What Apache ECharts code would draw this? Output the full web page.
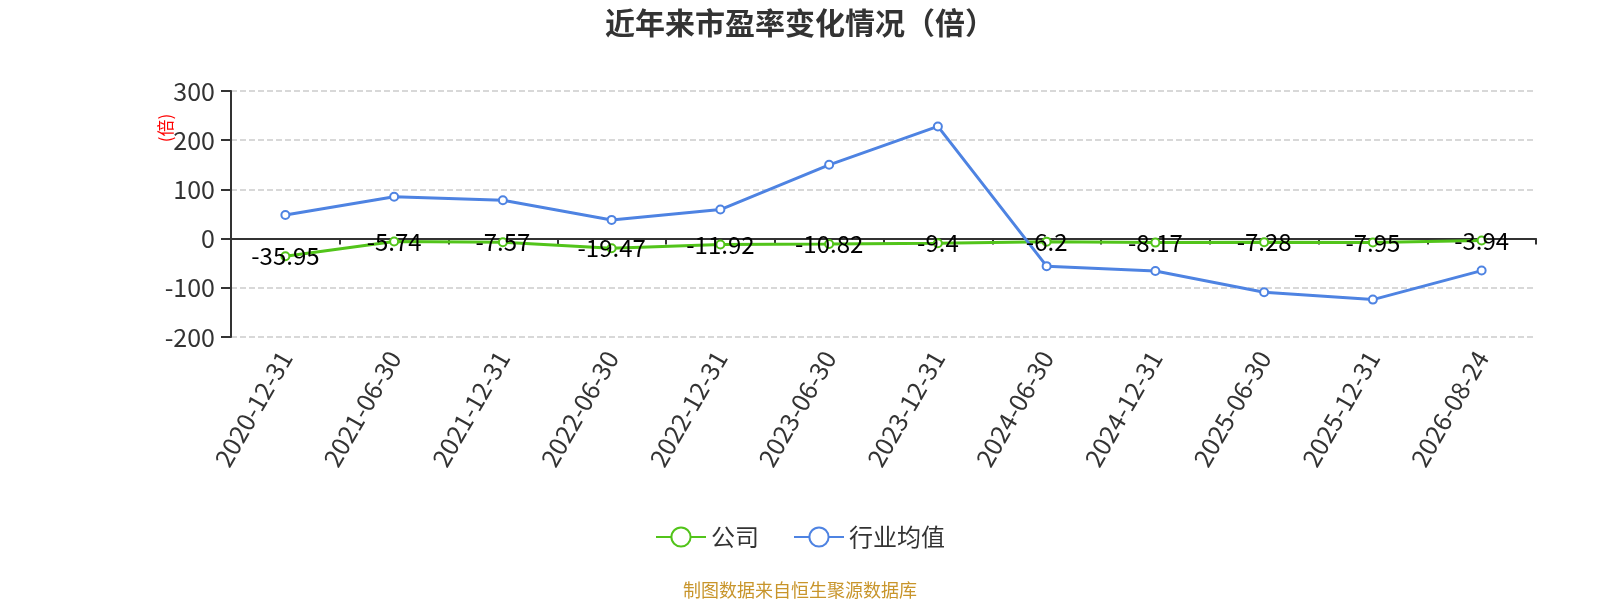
<!DOCTYPE html>
<html>
<head>
<meta charset="utf-8">
<script src="https://cdn.jsdelivr.net/npm/echarts@6/dist/echarts.min.js"></script>
<style>
    html, body { margin: 0; padding: 0; background: #fff; }
    #main { width: 1600px; height: 600px; }
</style>
</head>
<body>
<div id="main"></div>
<script>
var dates = ['2020-12-31', '2021-06-30', '2021-12-31', '2022-06-30', '2022-12-31', '2023-06-30',
    '2023-12-31', '2024-06-30', '2024-12-31', '2025-06-30', '2025-12-31', '2026-08-24'];
var company = [-35.95, -5.74, -7.57, -19.47, -11.92, -10.82, -9.4, -6.2, -8.17, -7.28, -7.95, -3.94];
var industry = [48, 85, 78, 38, 59, 150, 228, -56, -66, -109, -124, -65];
var yTicks = { min: -200, max: 300, step: 100 };

~function () {
    var myChart = echarts.init(document.getElementById('main'));
    var option = {
        textStyle: { fontFamily: 'Noto Sans CJK SC' },
        title: [
            {
                text: '近年来市盈率变化情况（倍）',
                left: 'center',
                top: 3,
                textStyle: { fontSize: 30, fontWeight: 'bold', color: '#333' }
            },
            {
                text: '制图数据来自恒生聚源数据库',
                left: 'center',
                bottom: 1,
                padding: 0,
                textStyle: { fontSize: 18, fontWeight: 'normal', color: '#c8952b' }
            }
        ],
        legend: {
            bottom: 46,
            itemWidth: 50,
            itemHeight: 24,
            itemGap: 34,
            textStyle: { fontSize: 24, color: '#333' },
            data: ['公司', '行业均值']
        },
        grid: {
            left: 231,
            right: 64,
            top: 91,
            bottom: 263
        },
        xAxis: [
            {
                type: 'category',
                data: dates,
                axisLine: { show: false, onZero: false },
                axisTick: { show: false },
                axisLabel: { rotate: 60, fontSize: 25, color: '#333', margin: 16, interval: 0 }
            },
            {
                type: 'category',
                data: dates,
                position: 'bottom',
                axisLine: { onZero: true, lineStyle: { color: '#333', width: 2 } },
                axisTick: { show: true, inside: false, length: 6, lineStyle: { color: '#333', width: 2 } },
                axisLabel: { show: false },
                splitLine: { show: false }
            }
        ],
        yAxis: {
            type: 'value',
            min: yTicks.min,
            max: yTicks.max,
            interval: yTicks.step,
            name: '(倍)',
            nameLocation: 'middle',
            nameRotate: 90,
            nameGap: 57,
            nameMoveOverlap: false,
            nameTextStyle: { color: '#ff0000', fontSize: 17, padding: [0, 0, 0, 172] },
            axisLine: { show: true, lineStyle: { color: '#333', width: 2 } },
            axisTick: { show: true, length: 10, lineStyle: { color: '#333', width: 2 } },
            axisLabel: { fontSize: 25, color: '#333', margin: 16 },
            splitLine: { lineStyle: { type: 'dashed', color: '#ccc', width: 1.5 } }
        },
        series: [
            {
                name: '公司',
                type: 'line',
                xAxisIndex: 0,
                data: company,
                symbol: 'emptyCircle',
                symbolSize: 8,
                itemStyle: { color: '#52c41a' },
                lineStyle: { width: 3, color: '#52c41a' },
                label: { show: true, position: 'inside', fontSize: 24, color: '#000' }
            },
            {
                name: '行业均值',
                type: 'line',
                xAxisIndex: 0,
                data: industry,
                symbol: 'emptyCircle',
                symbolSize: 8,
                itemStyle: { color: '#4e83e2' },
                lineStyle: { width: 3, color: '#4e83e2' }
            }
        ]
    };
    myChart.setOption(option);
}();
</script>
</body>
</html>
